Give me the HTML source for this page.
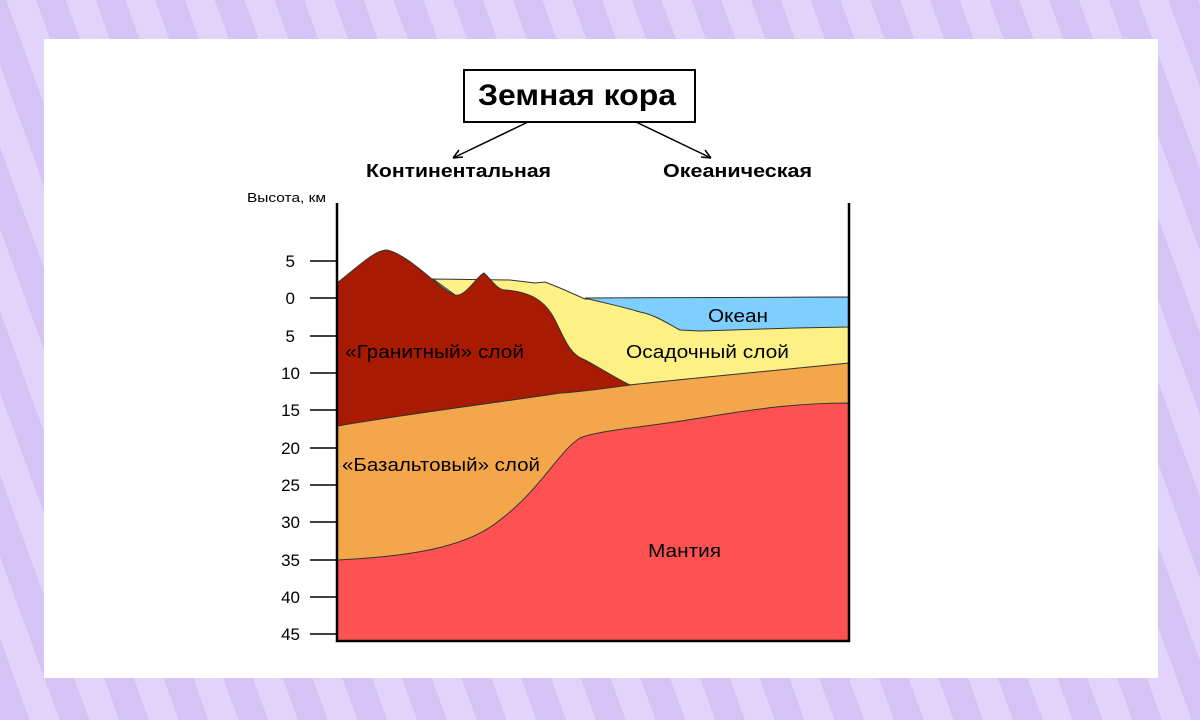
<!DOCTYPE html>
<html><head><meta charset="utf-8"><style>
body{margin:0;width:1200px;height:720px;overflow:hidden;background:#dccbf8;
background-image:repeating-linear-gradient(70deg,#d6c3f6 0 28px,#e2d3fa 28px 56px);}
.card{position:absolute;left:44px;top:39px;width:1114px;height:639px;background:#fff;}
svg{position:absolute;left:0;top:0}
text{font-family:"Liberation Sans","DejaVu Sans",sans-serif;}
</style></head><body>
<div class="card"></div>
<svg width="1200" height="720" viewBox="0 0 1200 720">
<rect x="464" y="70" width="231" height="52" fill="#fff" stroke="#000" stroke-width="2"/>
<text x="478" y="105" font-size="30" font-weight="bold" textLength="198" lengthAdjust="spacingAndGlyphs">Земная кора</text>
<g stroke="#000" stroke-width="1.5" fill="none">
<path d="M528,122 L453,158 M453,158 l10,-1 M453,158 l6,-8"/>
<path d="M636,122 L711,158 M711,158 l-10,-1 M711,158 l-6,-8"/>
</g>
<text x="366" y="177" font-size="18" font-weight="bold" textLength="185" lengthAdjust="spacingAndGlyphs">Континентальная</text>
<text x="663" y="177" font-size="18" font-weight="bold" textLength="149" lengthAdjust="spacingAndGlyphs">Океаническая</text>
<text x="247" y="202" font-size="13" textLength="79" lengthAdjust="spacingAndGlyphs">Высота, км</text>
<g stroke="#333" stroke-width="1">
<path d="M433,279 L510,280 L535,283 L545,282 L560,288 L585,299 L849,297 L849,400 L600,400 Z" fill="#fdf084"/>
<path d="M585,298 L849,297 L849,327 L795,328 L700,331 L680,330 C665,322 655,315 640,312 C620,306 600,302 585,298 Z" fill="#7fcffe"/>
<path d="M337,426 C400,415 480,405 560,393 C620,385 700,378 849,363 L849,641 L337,641 Z" fill="#f4a74a"/>
<path d="M337,560 C420,556 470,545 500,520 C540,490 560,450 580,438 C600,430 640,428 700,418 C760,408 800,403 849,403 L849,641 L337,641 Z" fill="#fe5252"/>
<path d="M337,283 C360,265 375,250 387,250 C410,255 440,290 455,295 C465,298 478,275 484,273 C490,278 497,290 505,290 C530,292 545,300 555,320 C565,340 570,355 585,360 C600,368 615,378 630,385 C600,389 580,392 560,393 C480,405 400,415 337,426 Z" fill="#a81a02"/>
</g>
<g stroke="#000" stroke-width="2.5" fill="none">
<path d="M337,203 L337,641 L849,641 L849,203"/>
</g>
<g stroke="#000" stroke-width="1.5">
<path d="M310,261H337M310,298H337M310,336H337M310,373H337M310,410H337M310,448H337M310,485H337M310,522H337M310,560H337M310,597H337M310,634H337"/>
</g>
<g font-size="17" text-anchor="end">
<text x="295" y="267">5</text><text x="295" y="304">0</text><text x="295" y="342">5</text>
<text x="300" y="379">10</text><text x="300" y="416">15</text><text x="300" y="454">20</text>
<text x="300" y="491">25</text><text x="300" y="528">30</text><text x="300" y="566">35</text>
<text x="300" y="603">40</text><text x="300" y="640">45</text>
</g>
<g font-size="18" lengthAdjust="spacingAndGlyphs">
<text x="345" y="358" textLength="179" lengthAdjust="spacingAndGlyphs">«Гранитный» слой</text>
<text x="626" y="358" textLength="163" lengthAdjust="spacingAndGlyphs">Осадочный слой</text>
<text x="708" y="322" textLength="60" lengthAdjust="spacingAndGlyphs">Океан</text>
<text x="342" y="471" textLength="198" lengthAdjust="spacingAndGlyphs">«Базальтовый» слой</text>
<text x="648" y="557" textLength="73" lengthAdjust="spacingAndGlyphs">Мантия</text>
</g>
</svg>
</body></html>
